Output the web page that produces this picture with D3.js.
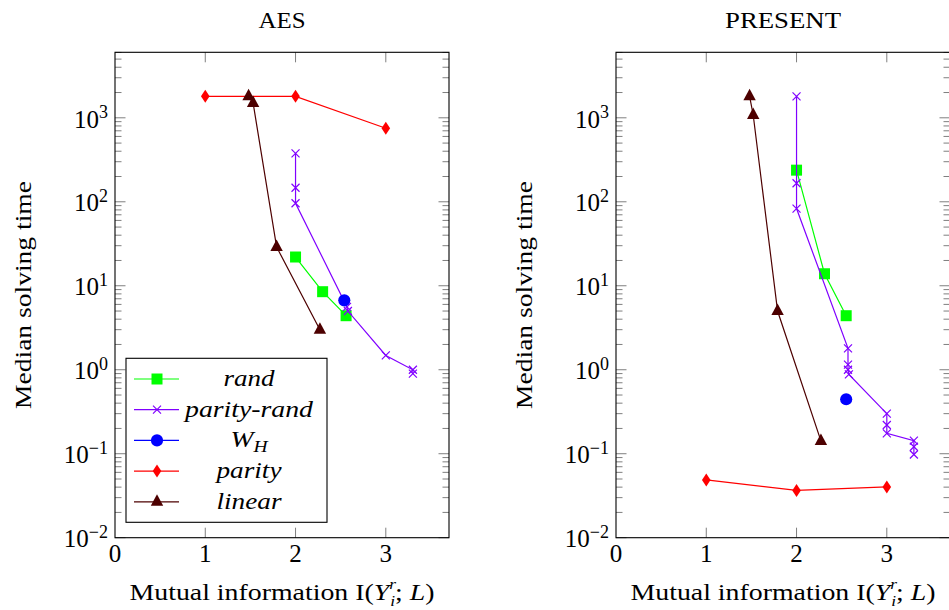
<!DOCTYPE html>
<html>
<head>
<meta charset="utf-8">
<script src="https://cdn.jsdelivr.net/npm/d3@7"></script>
<style>
    body { margin: 0; background: #fff; }
    svg { display: block; }
    text { font-family: 'Liberation Serif', serif; fill: #000; }
</style>
</head>
<body>
<svg id="chart"></svg>
<script>
'use strict';

const WIDTH = 949;
const HEIGHT = 610;
const FONT = 24;
const SERIF = 'Liberation Serif';

// values, [mutual information, median solving time]
const AES_RAND = [[2, 22], [2.3, 8.5], [2.56, 4.4]];
const AES_PARITY_RAND = [[2, 377], [2, 147], [2, 96], [2.57, 5.6], [2.58, 5.0], [3, 1.48], [3.3, 1.0], [3.3, 0.9]];
const AES_WH = [[2.54, 6.7]];
const AES_PARITY = [[1, 1800], [2, 1800], [3, 750]];
const AES_LINEAR = [[1.48, 1800], [1.53, 1500], [1.79, 29], [2.27, 3.0]];

const PRESENT_RAND = [[2, 238], [2.31, 13.9], [2.55, 4.4]];
const PRESENT_PARITY_RAND = [[2, 1800], [2, 166], [2, 83], [2.57, 1.8], [2.57, 1.15], [2.57, 1.0], [2.58, 0.88],
    [3, 0.30], [3, 0.22], [3, 0.175], [3.3, 0.143], [3.3, 0.121], [3.3, 0.098]];
const PRESENT_WH = [[2.55, 0.445]];
const PRESENT_PARITY = [[1, 0.0487], [2, 0.0366], [3, 0.0402]];
const PRESENT_LINEAR = [[1.48, 1800], [1.52, 1080], [1.79, 5.0], [2.27, 0.142]];

const SERIES = ['rand', 'parity-rand', 'W_H', 'parity', 'linear'];
const X_TICKS = [0, 1, 2, 3];
const Y_EXPONENTS = [-2, -1, 0, 1, 2, 3];
const X_DOMAIN = [0, 3.7];
const Y_DOMAIN = [1e-2, Math.pow(10, 3.78)];

const STYLE = {
    'rand': { color: '#00ff00', mark: 'square' },
    'parity-rand': { color: '#8000ff', mark: 'cross' },
    'W_H': { color: '#0000ff', mark: 'circle' },
    'parity': { color: '#ff0000', mark: 'diamond' },
    'linear': { color: '#4d0000', mark: 'triangle' }
};

// rendered widths of the original (Computer Modern) labels
const TEXT_WIDTH = {
    'AES': 47, 'PRESENT': 116, 'ylabel': 228, 'xlabel': 305,
    'rand': 51, 'parity-rand': 128, 'W_H': 37, 'parity': 65, 'linear': 65
};

const MARKS = {
    square: 'M-5.5,-5.5h11v11h-11Z',
    circle: d3.symbol(d3.symbolCircle, 116)(),
    diamond: 'M0,-6.5L4.3,0L0,6.5L-4.3,0Z',
    triangle: 'M0,-7.5L6.2,4L-6.2,4Z',
    cross: 'M-4,-4L4,4M-4,4L4,-4'
};

const svg = d3.select('#chart').attr('width', WIDTH).attr('height', HEIGHT);

function fit(t, key) {
    t.attr('textLength', TEXT_WIDTH[key]).attr('lengthAdjust', 'spacingAndGlyphs');
}

function drawMark(g, name, x, y) {
    let st = STYLE[name];
    let p = g.append('path')
        .attr('d', MARKS[st.mark])
        .attr('transform', 'translate(' + x + ',' + y + ')');
    if (st.mark == 'cross') {
        p.attr('fill', 'none').attr('stroke', st.color).attr('stroke-width', 1.2);
    } else {
        p.attr('fill', st.color);
    }
}

function panel(opts) {
    let left = opts.left, top = 52.3, w = 334, h = 485.4;
    let x = d3.scaleLinear().domain(X_DOMAIN).range([left, left + w]);
    let y = d3.scaleLog().domain(Y_DOMAIN).range([top + h, top]);
    let g = svg.append('g');

    // ticks inside the box, on all four sides
    let ticks = g.append('g').attr('stroke', '#7f7f7f').attr('stroke-width', 1);
    X_TICKS.slice(1).forEach(function(t) {
        ticks.append('line').attr('x1', x(t)).attr('x2', x(t)).attr('y1', top + h).attr('y2', top + h - 10);
        ticks.append('line').attr('x1', x(t)).attr('x2', x(t)).attr('y1', top).attr('y2', top + 10);
    });
    y.ticks().forEach(function(t) {
        let major = Math.abs(Math.log10(t) - Math.round(Math.log10(t))) < 1e-9;
        let len = major ? 10.5 : 6.5;
        let yy = y(t);
        if (yy < top - 0.5) return;
        ticks.append('line').attr('x1', left).attr('x2', left + len).attr('y1', yy).attr('y2', yy);
        ticks.append('line').attr('x1', left + w).attr('x2', left + w - len).attr('y1', yy).attr('y2', yy);
    });

    // box
    g.append('rect')
        .attr('x', left).attr('y', top).attr('width', w).attr('height', h)
        .attr('fill', 'none').attr('stroke', '#000').attr('stroke-width', 1.1);

    // tick labels
    X_TICKS.forEach(function(t) {
        g.append('text')
            .attr('x', x(t)).attr('y', top + h + 24.5)
            .attr('text-anchor', 'middle').attr('font-size', 25)
            .attr('font-family', SERIF)
            .text(t);
    });
    Y_EXPONENTS.forEach(function(e) {
        let lbl = g.append('text')
            .attr('x', left - 7).attr('y', y(Math.pow(10, e)) + 9.7)
            .attr('text-anchor', 'end').attr('font-size', 25)
            .attr('font-family', SERIF);
        lbl.append('tspan').text('10');
        lbl.append('tspan').attr('dy', -9.5).attr('font-size', 18).text(e < 0 ? '\u2212' + (-e) : e);
    });

    // series
    SERIES.forEach(function(name, i) {
        let pts = opts.data[i];
        let st = STYLE[name];
        if (pts.length > 1) {
            g.append('path')
                .datum(pts)
                .attr('fill', 'none')
                .attr('stroke', st.color)
                .attr('stroke-width', 1.2)
                .attr('d', d3.line().x(function(d) { return x(d[0]); }).y(function(d) { return y(d[1]); }));
        }
        pts.forEach(function(d) {
            drawMark(g, name, x(d[0]), y(d[1]));
        });
    });

    // title and axis labels
    let title = g.append('text')
        .attr('x', left + w / 2).attr('y', 28)
        .attr('text-anchor', 'middle').attr('font-size', FONT)
        .attr('font-family', SERIF)
        .text(opts.title);
    fit(title, opts.title);

    let yl = g.append('text')
        .attr('transform', 'translate(' + (left - 84) + ',' + (top + h / 2) + ') rotate(-90)')
        .attr('text-anchor', 'middle').attr('font-size', FONT)
        .attr('font-family', SERIF)
        .text('Median solving time');
    fit(yl, 'ylabel');

    let xl = g.append('text')
        .attr('x', left + w / 2).attr('y', 599.5)
        .attr('text-anchor', 'middle').attr('font-size', FONT)
        .attr('font-family', SERIF);
    xl.append('tspan').text('Mutual information I(');
    xl.append('tspan').attr('font-style', 'italic').text('Y');
    xl.append('tspan').attr('font-style', 'italic').attr('font-size', 15).attr('dy', -10.5).text('r');
    xl.append('tspan').attr('font-style', 'italic').attr('font-size', 15).attr('dx', -5).attr('dy', 17).text('i');
    xl.append('tspan').attr('dy', -6.5).text('; ');
    xl.append('tspan').attr('font-style', 'italic').text('L');
    xl.append('tspan').text(')');
    fit(xl, 'xlabel');

    if (opts.legend) legend(g);
}

function legend(g) {
    let lx = 126, ly = 358.3, lw = 201, lh = 164;
    g.append('rect')
        .attr('x', lx).attr('y', ly).attr('width', lw).attr('height', lh)
        .attr('fill', '#fff').attr('stroke', '#000').attr('stroke-width', 1.1);

    SERIES.forEach(function(name, i) {
        let yy = ly + 20.7 + i * 30.7;
        g.append('line')
            .attr('x1', lx + 8).attr('x2', lx + 53).attr('y1', yy).attr('y2', yy)
            .attr('stroke', STYLE[name].color).attr('stroke-width', 1.2);
        drawMark(g, name, lx + 31, yy);

        let t = g.append('text')
            .attr('x', lx + 123).attr('y', yy + 7)
            .attr('text-anchor', 'middle').attr('font-size', FONT)
            .attr('font-family', SERIF)
            .attr('font-style', 'italic');
        if (name == 'W_H') {
            t.append('tspan').text('W');
            t.append('tspan').attr('font-size', 17).attr('dy', 5).text('H');
        } else {
            t.text(name);
        }
        fit(t, name);
    });
}

panel({
    title: 'AES',
    left: 115,
    legend: true,
    data: [AES_RAND, AES_PARITY_RAND, AES_WH, AES_PARITY, AES_LINEAR]
});

panel({
    title: 'PRESENT',
    left: 616,
    legend: false,
    data: [PRESENT_RAND, PRESENT_PARITY_RAND, PRESENT_WH, PRESENT_PARITY, PRESENT_LINEAR]
});
</script>
</body>
</html>
